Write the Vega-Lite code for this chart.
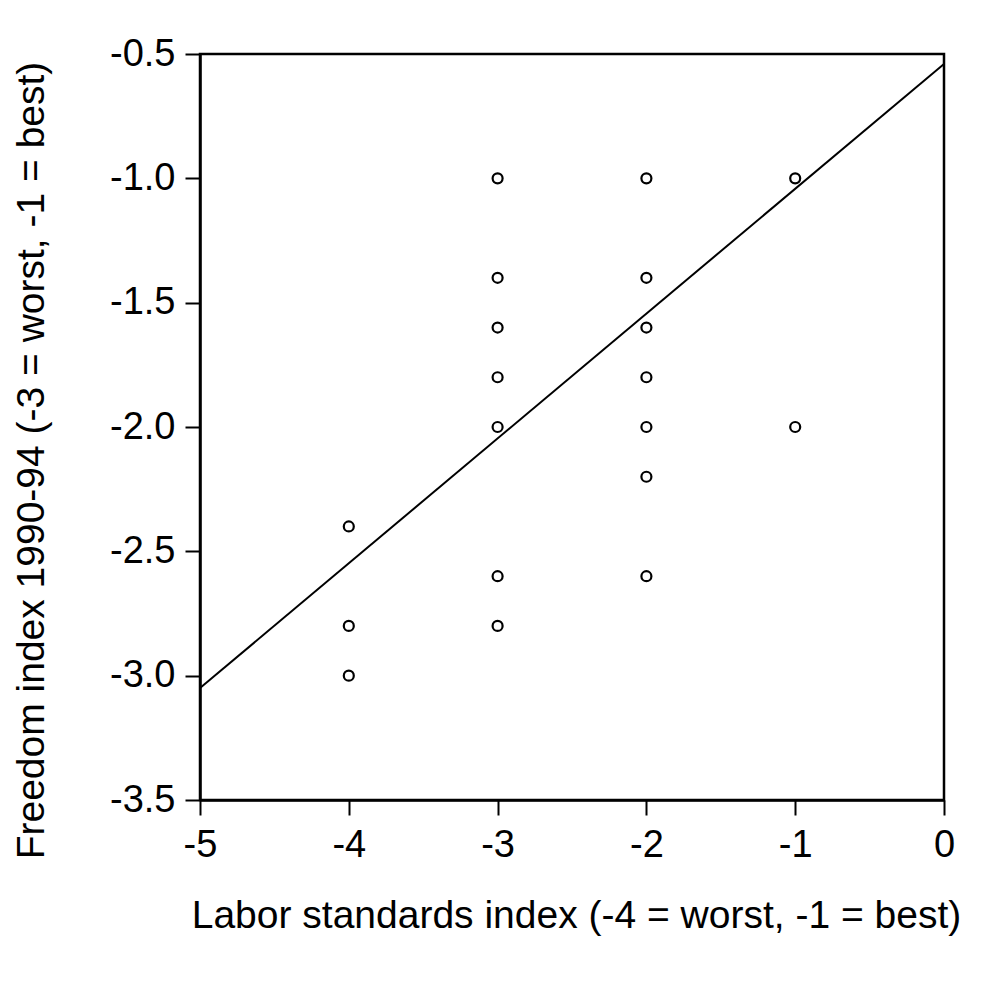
{
  "$schema": "https://vega.github.io/schema/vega-lite/v6.json",
  "width": 744,
  "height": 746,
  "autosize": {"type": "none"},
  "padding": {"left": 200, "top": 54, "right": 39, "bottom": 184},
  "background": "white",
  "config": {
    "font": "Liberation Sans",
    "view": {"stroke": "black", "strokeWidth": 2.5},
    "axis": {
      "grid": false,
      "domainColor": "black",
      "domainWidth": 2.5,
      "tickColor": "black",
      "tickWidth": 2,
      "tickSize": 15,
      "labelColor": "black",
      "labelFont": "Liberation Sans",
      "labelFontSize": 38,
      "labelFlush": false,
      "labelOverlap": false,
      "titleColor": "black",
      "titleFont": "Liberation Sans",
      "titleFontSize": 39,
      "titleFontWeight": "normal"
    }
  },
  "datasets": {
    "countries": [
      {"labor": -4, "freedom": -2.4},
      {"labor": -4, "freedom": -2.8},
      {"labor": -4, "freedom": -3.0},
      {"labor": -3, "freedom": -1.0},
      {"labor": -3, "freedom": -1.4},
      {"labor": -3, "freedom": -1.6},
      {"labor": -3, "freedom": -1.8},
      {"labor": -3, "freedom": -2.0},
      {"labor": -3, "freedom": -2.6},
      {"labor": -3, "freedom": -2.8},
      {"labor": -2, "freedom": -1.0},
      {"labor": -2, "freedom": -1.4},
      {"labor": -2, "freedom": -1.6},
      {"labor": -2, "freedom": -1.8},
      {"labor": -2, "freedom": -2.0},
      {"labor": -2, "freedom": -2.2},
      {"labor": -2, "freedom": -2.6},
      {"labor": -1, "freedom": -1.0},
      {"labor": -1, "freedom": -2.0}
    ],
    "fit": [
      {"labor": -5, "freedom": -3.05},
      {"labor": 0, "freedom": -0.54}
    ]
  },
  "layer": [
    {
      "data": {"name": "fit"},
      "mark": {"type": "line", "color": "black", "strokeWidth": 2, "clip": true},
      "encoding": {
        "x": {
          "field": "labor",
          "type": "quantitative",
          "scale": {"domain": [-5, 0], "nice": false, "zero": false},
          "axis": {
            "values": [-5, -4, -3, -2, -1, 0],
            "labelExpr": "replace(format(datum.value, 'd'), '\u2212', '-')",
            "labelPadding": 11,
            "title": "Labor standards index (-4 = worst, -1 = best)",
            "titleX": 376,
            "titleY": 127,
            "titleAlign": "center",
            "titleBaseline": "alphabetic",
            "titleAnchor": "middle"
          }
        },
        "y": {
          "field": "freedom",
          "type": "quantitative",
          "scale": {"domain": [-3.5, -0.5], "nice": false, "zero": false},
          "axis": {
            "values": [-3.5, -3.0, -2.5, -2.0, -1.5, -1.0, -0.5],
            "labelExpr": "replace(format(datum.value, '.1f'), '\u2212', '-')",
            "labelPadding": 10,
            "title": "Freedom index 1990-94 (-3 = worst, -1 = best)",
            "titleX": -157,
            "titleY": 406,
            "titleAngle": -90,
            "titleAlign": "center",
            "titleBaseline": "alphabetic",
            "titleAnchor": "middle"
          }
        }
      }
    },
    {
      "data": {"name": "countries"},
      "mark": {
        "type": "point",
        "shape": "circle",
        "filled": false,
        "color": "black",
        "opacity": 1,
        "size": 100,
        "strokeWidth": 2.2
      },
      "encoding": {
        "x": {"field": "labor", "type": "quantitative"},
        "y": {"field": "freedom", "type": "quantitative"}
      }
    }
  ]
}
